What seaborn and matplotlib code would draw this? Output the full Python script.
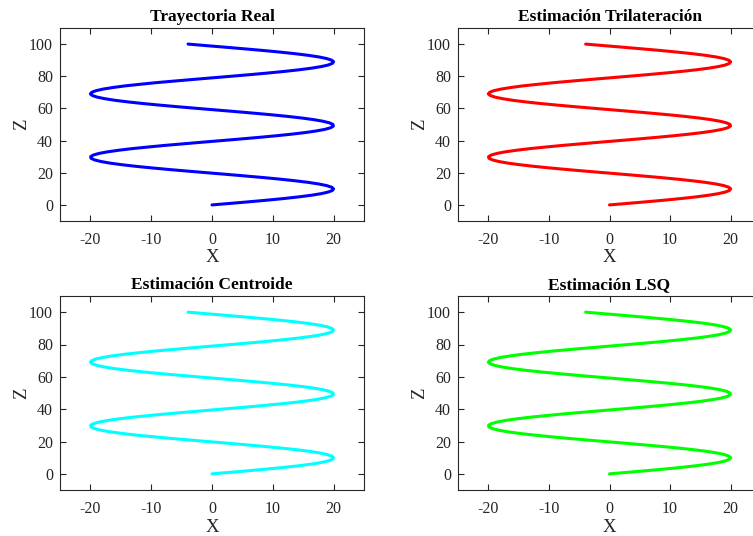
import numpy as np
import pandas as pd
import seaborn as sns
import matplotlib
matplotlib.use("Agg")
import matplotlib.pyplot as plt

# Trajectory samples: height z (one per unit) and lateral position x
z_vals = list(range(0, 101))
x_vals = [0.0, 3.17, 6.25, 9.19, 11.88, 14.28, 16.33, 17.95, 19.12, 19.80,
          20.0, 19.68, 18.87, 17.58, 15.86, 13.71, 11.23, 8.48, 5.47, 2.38,
          -0.79, -3.95, -7.01, -9.88, -12.53, -14.83, -16.79, -18.28, -19.33, -19.90,
          -19.96, -19.53, -18.59, -17.20, -15.33, -13.14, -10.50, -7.76, -4.67, -1.59,
          1.59, 4.73, 7.75, 10.57, 13.13, 15.35, 17.18, 18.59, 19.53, 19.96,
          19.90, 19.33, 18.28, 16.77, 14.84, 12.52, 9.90, 7.00, 3.95, 0.79,
          -2.38, -5.50, -8.47, -11.26, -13.73, -15.87, -17.57, -18.87, -19.67, -20.0,
          -19.79, -19.11, -17.93, -16.29, -14.32, -11.83, -9.24, -6.23, -3.16, 0.0,
          3.16, 6.26, 9.18, 11.88, 14.28, 16.32, 17.94, 19.12, 19.80, 20.0,
          19.68, 18.87, 17.58, 15.86, 13.72, 11.23, 8.48, 5.47, 2.39, -0.80,
          -3.94]

titles = ["Trayectoria Real", "Estimación Trilateración",
          "Estimación Centroide", "Estimación LSQ"]
colors = ["#0000ff", "#ff0000", "#00ffff", "#00ff00"]

x_ticks = [-20, -10, 0, 10, 20]
z_ticks = [0, 20, 40, 60, 80, 100]

df = pd.DataFrame({"X": x_vals, "Z": z_vals})

sns.set_theme(style="white")
plt.rcParams["font.family"] = ["Liberation Serif", "DejaVu Serif"]

W, H = 753, 536
fig = plt.figure(figsize=(W / 100, H / 100), dpi=100)

# axes boxes in pixels: (left, top, right, bottom)
boxes = [(60, 28, 364, 221), (458, 28, 761, 221),
         (60, 296, 364, 490), (458, 296, 761, 490)]

edge = "#262626"
for (l, t, r, b), title, col in zip(boxes, titles, colors):
    ax = fig.add_axes([l / W, 1 - b / H, (r - l) / W, (b - t) / H])
    sns.lineplot(data=df, x="X", y="Z", sort=False, estimator=None,
                 color=col, linewidth=2.2, ax=ax)
    ax.set_xlim(-25, 25)
    ax.set_ylim(-10, 110)
    ax.set_xticks(x_ticks)
    ax.set_yticks(z_ticks)
    ax.set_xticklabels([str(v) for v in x_ticks])
    ax.set_yticklabels([str(v) for v in z_ticks])
    ax.tick_params(direction="in", length=4, width=0.8, color=edge,
                   labelcolor=edge, labelsize=11.5, top=True, right=True,
                   bottom=True, left=True)
    ax.tick_params(axis="x", pad=8)
    ax.tick_params(axis="y", pad=5)
    for s in ax.spines.values():
        s.set_visible(True)
        s.set_color(edge)
        s.set_linewidth(0.8)
    ax.set_title(title, fontsize=12.5, fontweight="bold", color="black", pad=5)
    ax.set_xlabel("X", fontsize=13.5, color=edge, labelpad=1)
    ax.set_ylabel("Z", fontsize=13.5, color=edge, labelpad=-1)
    ax.grid(False)

fig.savefig("out.png", dpi=100, facecolor="white")
